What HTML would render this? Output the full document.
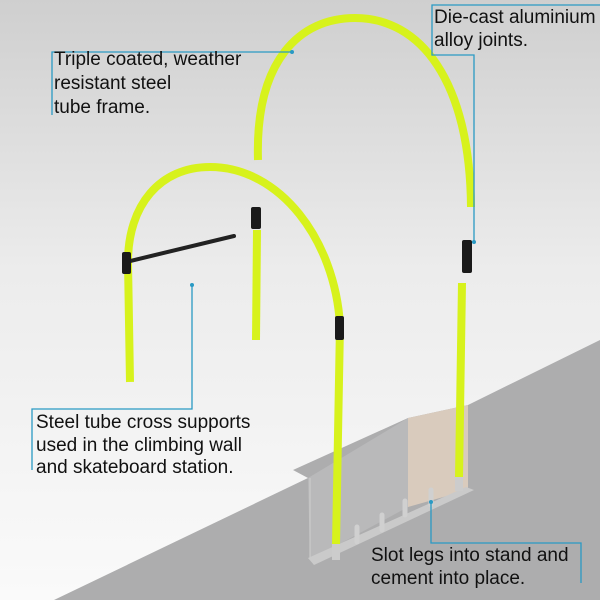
<!DOCTYPE html>
<html><head><meta charset="utf-8"><style>
html,body{margin:0;padding:0;}
body{width:600px;height:600px;overflow:hidden;}
svg{display:block;}
text{font-family:"Liberation Sans",sans-serif;font-size:19px;fill:#111;}
</style></head><body>
<svg width="600" height="600" viewBox="0 0 600 600">
<defs>
<linearGradient id="bg" x1="0" y1="0" x2="0" y2="1">
<stop offset="0" stop-color="#cfcfcf"/><stop offset="0.45" stop-color="#ececec"/><stop offset="1" stop-color="#fafafa"/>
</linearGradient>
</defs>
<rect width="600" height="600" fill="url(#bg)"/>
<!-- ground -->
<polygon points="600,340 468,405 408,418 293,470 308,478 54,600 600,600" fill="#adadae"/>
<polygon points="408,418 468,405 468,490 408,507" fill="#d9cbbd"/>
<polygon points="308,478 408,418 408,507 310,560" fill="#b9b9ba"/>
<line x1="310" y1="478" x2="310" y2="560" stroke="#cfcfcf" stroke-width="1"/>
<polygon points="308,558 466,487 474,490 314,565" fill="#cacaca"/>
<!-- posts in stand -->
<g stroke="#d0d0d0" stroke-width="5" stroke-linecap="round">
<line x1="357" y1="542" x2="357" y2="527"/><line x1="382" y1="530" x2="382" y2="515"/>
<line x1="405" y1="515" x2="405" y2="501"/><line x1="431" y1="505" x2="431" y2="490"/>
</g>
<!-- tubes -->
<g fill="none" stroke="#d7f21c" stroke-width="8" stroke-linecap="butt">
<path d="M258,160 C255,60 300,18 355,18 C420,18 470,80 471,207"/>
<path d="M130,382 L128,262 C128,205 160,167 210,167 C280,167 335,240 340,325 L336,545"/>
<line x1="257" y1="230" x2="256" y2="340"/>
<line x1="462" y1="283" x2="459" y2="478"/>
</g>
<line x1="126" y1="262" x2="234" y2="236" stroke="#222" stroke-width="4" stroke-linecap="round"/>
<g fill="#1a1a1a">
<rect x="122" y="252" width="9" height="22" rx="2"/>
<rect x="335" y="316" width="9" height="24" rx="2"/>
<rect x="251" y="207" width="10" height="22" rx="2"/>
<rect x="462" y="240" width="10" height="33" rx="2"/>
</g>
<rect x="332" y="544" width="8" height="16" fill="#ccc"/>
<rect x="455" y="477" width="8" height="14" fill="#ccc"/>
<!-- callouts -->
<g fill="none" stroke="#2a9ac4" stroke-width="1.3">
<polyline points="292,52 52,52 52,115"/>
<polyline points="600,5 432,5 432,55 474,55 474,242"/>
<polyline points="192,285 192,409 32,409 32,470"/>
<polyline points="431,502 431,543 581,543 581,583"/>
</g>
<g fill="#2a9ac4"><circle cx="292" cy="52" r="2"/><circle cx="474" cy="242" r="2"/><circle cx="192" cy="285" r="2"/><circle cx="431" cy="502" r="2"/></g>
<text x="54" y="65">Triple coated, weather</text>
<text x="54" y="89">resistant steel</text>
<text x="54" y="113">tube frame.</text>
<text x="434" y="23">Die-cast aluminium</text>
<text x="434" y="46">alloy joints.</text>
<text x="36" y="428">Steel tube cross supports</text>
<text x="36" y="451">used in the climbing wall</text>
<text x="36" y="473">and skateboard station.</text>
<text x="371" y="561">Slot legs into stand and</text>
<text x="371" y="584">cement into place.</text>
</svg>
</body></html>
